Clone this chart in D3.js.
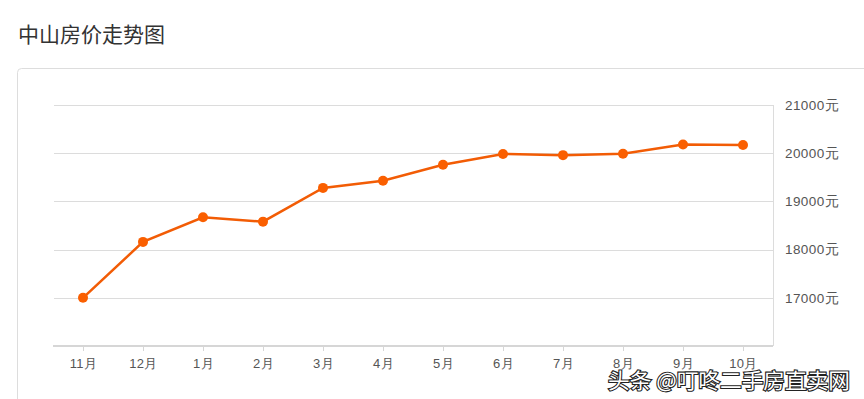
<!DOCTYPE html>
<html><head><meta charset="utf-8">
<script src="https://cdn.jsdelivr.net/npm/d3@7/dist/d3.min.js"></script>
<style>
html,body{margin:0;padding:0;background:#fff;overflow:hidden;}
svg{display:block;font-family:"Open Sans","Noto Sans CJK SC",sans-serif;}
</style></head><body>
<svg id="c" width="864" height="399"></svg>
<script>
const title = "中山房价走势图";
const months = ["11月","12月","1月","2月","3月","4月","5月","6月","7月","8月","9月","10月"];
const prices = [17000,18160,18670,18580,19280,19430,19760,19985,19960,19990,20180,20170];
const yTicks = [17000,18000,19000,20000,21000];
const watermark = "头条 @叮咚二手房直卖网";

const svg = d3.select("#c");
svg.append("text").attr("x",18).attr("y",42).attr("font-size",21)
  .attr("fill","#333").attr("font-family","'Noto Sans CJK SC',sans-serif").text(title);

svg.append("rect").attr("x",17.5).attr("y",68.5).attr("width",900).attr("height",400)
  .attr("rx",4).attr("fill","#fff").attr("stroke","#ddd");

const L=53, R=773, T=105, B=346;
const x = d3.scalePoint().domain(months).range([L,R]).padding(0.5);
const y = d3.scaleLinear().domain([16000,21000]).range([B,T]);

svg.append("g").selectAll("line").data(yTicks).join("line")
  .attr("x1",L+1).attr("x2",R).attr("y1",d=>Math.round(y(d))+0.5).attr("y2",d=>Math.round(y(d))+0.5)
  .attr("stroke","#dcdcdc").attr("stroke-width",1);
svg.append("line").attr("x1",R+0.5).attr("x2",R+0.5).attr("y1",T).attr("y2",B)
  .attr("stroke","#dcdcdc");

const ya = svg.append("g").attr("transform",`translate(${R},0)`)
  .call(d3.axisRight(y).tickValues(yTicks).tickSize(0).tickPadding(12).tickFormat(d=>d+"元"));
ya.select(".domain").remove();
ya.selectAll("text").attr("font-size",13.5).attr("fill","#555").attr("letter-spacing",0.4);

const xa = svg.append("g").attr("transform",`translate(0,${B})`)
  .call(d3.axisBottom(x).tickSize(5).tickPadding(8));
xa.select(".domain").attr("stroke","#d6d6d6").attr("stroke-width",2).attr("d",`M${L},0H${R}`);
xa.selectAll(".tick line").attr("stroke","#d6d6d6");
xa.selectAll("text").attr("font-size",13).attr("fill","#555").attr("letter-spacing",0.4);

const line = d3.line().x((d,i)=>x(months[i])).y(d=>y(d));
svg.append("path").datum(prices).attr("d",line).attr("fill","none")
  .attr("stroke","#f25c05").attr("stroke-width",2.5);
svg.append("g").selectAll("circle").data(prices).join("circle")
  .attr("cx",(d,i)=>x(months[i])).attr("cy",d=>y(d)).attr("r",5).attr("fill","#fa5f00");

const wm = svg.append("text").attr("x",608).attr("y",388).attr("font-size",21)
  .attr("font-family","'Noto Sans CJK SC',sans-serif").text(watermark);
wm.attr("fill","#fff").attr("stroke","#222").attr("stroke-width",2.2).attr("paint-order","stroke")
  .attr("textLength",242).attr("lengthAdjust","spacingAndGlyphs");
</script>
</body></html>
